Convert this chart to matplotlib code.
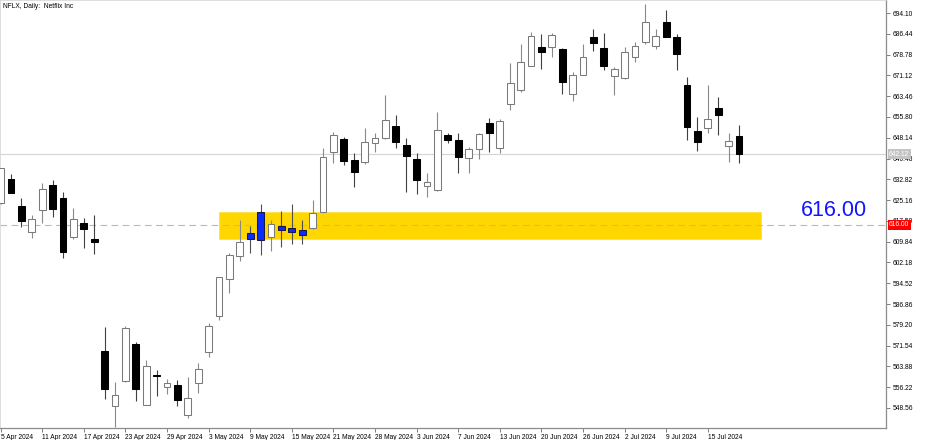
import matplotlib
matplotlib.use("Agg")
import matplotlib.pyplot as plt
from matplotlib import font_manager
from matplotlib.patches import Rectangle
from matplotlib.transforms import blended_transform_factory

plt.rcParams['font.family'] = ['Liberation Sans', 'DejaVu Sans']

# ---- data ----
opens = [624.0, 632.9, 623.1, 613.3, 621.4, 630.8, 625.9, 611.4, 616.6, 610.9,
         569.5, 549.2, 558.4, 572.0, 549.5, 560.8, 556.2, 557.1, 545.8, 557.6,
         569.2, 582.4, 596.0, 604.6, 610.7, 620.9, 611.6, 615.6, 614.9, 614.1,
         614.8, 620.7, 642.8, 647.6, 639.8, 639.1, 646.1, 647.9, 652.3, 645.5,
         640.2, 630.2, 628.8, 649.0, 647.2, 640.6, 643.9, 653.5, 644.2, 660.5,
         665.6, 674.6, 681.6, 681.5, 680.8, 664.4, 671.3, 685.3, 681.1, 670.9,
         670.0, 677.8, 683.3, 682.1, 690.7, 685.1, 667.5, 650.5, 651.6, 659.0,
         645.2, 648.7]
highs = [637.0, 634.8, 626.0, 619.7, 631.6, 632.6, 628.0, 622.4, 618.7, 619.6,
         578.3, 558.2, 578.9, 572.9, 566.2, 562.5, 559.2, 558.8, 560.1, 565.1,
         580.0, 596.8, 605.5, 617.8, 615.6, 623.7, 617.8, 621.3, 623.7, 617.8,
         625.2, 644.2, 650.1, 648.4, 642.4, 651.8, 649.8, 663.9, 656.4, 647.9,
         642.4, 635.0, 657.6, 650.0, 649.8, 644.8, 650.0, 655.3, 655.0, 675.6,
         682.8, 687.0, 686.5, 686.6, 681.3, 672.5, 682.8, 688.3, 686.8, 674.3,
         681.7, 683.4, 697.3, 688.2, 695.1, 686.3, 670.4, 655.7, 667.6, 663.0,
         650.0, 652.8]
lows = [623.9, 627.8, 615.4, 611.1, 616.6, 618.8, 603.7, 610.8, 607.6, 605.2,
        551.9, 541.5, 558.2, 551.1, 549.5, 553.0, 553.7, 549.2, 544.9, 554.2,
        567.3, 581.0, 590.8, 602.7, 605.6, 605.0, 606.5, 607.8, 609.0, 609.0,
        614.4, 620.7, 638.7, 638.2, 630.1, 638.6, 643.0, 647.7, 644.2, 628.2,
        627.3, 626.2, 628.5, 646.1, 635.2, 635.2, 640.2, 643.0, 642.5, 658.4,
        665.1, 674.4, 673.5, 678.0, 664.3, 661.8, 671.1, 680.2, 673.1, 663.8,
        669.8, 675.9, 682.6, 680.8, 685.1, 673.1, 647.3, 643.4, 650.0, 649.1,
        639.3, 638.7]
closes = [636.9, 627.9, 617.3, 618.1, 629.1, 621.9, 606.0, 618.1, 614.4, 609.6,
          555.7, 553.2, 577.9, 555.4, 563.9, 560.5, 557.6, 551.4, 552.1, 563.0,
          578.8, 596.7, 604.9, 609.6, 613.0, 610.5, 616.2, 614.1, 613.3, 612.2,
          620.5, 640.9, 649.1, 639.5, 635.5, 646.5, 647.9, 654.6, 646.7, 641.4,
          632.7, 631.7, 650.9, 647.3, 640.9, 643.9, 649.5, 649.8, 654.3, 668.3,
          676.2, 685.7, 679.6, 686.0, 668.8, 671.1, 677.8, 682.9, 674.7, 673.5,
          679.6, 682.1, 690.9, 685.6, 685.3, 678.9, 652.2, 646.7, 655.0, 656.4,
          646.8, 642.1]
highlighted = [24, 25, 27, 28, 29]

date_ticks = [0, 4, 8, 12, 16, 20, 24, 28, 32, 36, 40, 44, 48, 52, 56, 60, 64, 68]
date_labels = ['5 Apr 2024', '11 Apr 2024', '17 Apr 2024', '23 Apr 2024', '29 Apr 2024',
               '3 May 2024', '9 May 2024', '15 May 2024', '21 May 2024', '28 May 2024',
               '3 Jun 2024', '7 Jun 2024', '13 Jun 2024', '20 Jun 2024', '26 Jun 2024',
               '2 Jul 2024', '9 Jul 2024', '15 Jul 2024']
price_ticks = [694.10, 686.44, 678.78, 671.12, 663.46, 655.80, 648.14, 640.48, 632.82,
               625.16, 617.50, 609.84, 602.18, 594.52, 586.86, 579.20, 571.54, 563.88,
               556.22, 548.56]

level_price = 616.00
last_price = 642.12
zone_low, zone_high = 610.9, 620.8
zone_start, zone_end = 21.0, 73.1

title = "NFLX, Daily:  Netflix Inc"
# ---------------------------------------------------------------

installed = {f.name for f in font_manager.fontManager.ttflist}
if 'Liberation Sans Narrow' in installed:
    small_family, small_size = ['Liberation Sans Narrow', 'DejaVu Sans'], 5.5
else:
    small_family, small_size = ['Liberation Sans', 'DejaVu Sans'], 4.8

W, H = 936, 440
fig = plt.figure(figsize=(W / 100, H / 100), dpi=100)
ax_left, ax_right, ax_top, ax_bottom = 0, 886, 0, 428
ax = fig.add_axes([ax_left / W, (H - ax_bottom) / H, (ax_right - ax_left) / W, (ax_bottom - ax_top) / H])

ax.set_xlim(-0.058, 85.13)
ax.set_ylim(541.17, 698.9)

# zone
ax.add_patch(Rectangle((zone_start, zone_low), zone_end - zone_start, zone_high - zone_low,
                       facecolor='#FFD700', edgecolor='#FFE24D', linewidth=0.7, zorder=1))
# level lines
ax.axhline(level_price, color='#f5a0a0', linestyle=(0, (6, 4)), linewidth=0.8, zorder=2)
ax.axhline(last_price, color='#d4d4d4', linewidth=0.8, zorder=2)

# candles
bw = 0.66
n = len(opens)
for i in range(n):
    o, h, l, c = opens[i], highs[i], lows[i], closes[i]
    bull = c >= o
    if i in highlighted:
        face, edge, wick = '#0a2cff', '#1a1a40', '#505050'
    elif bull:
        face, edge, wick = 'white', '#7a7a7a', '#8a8a8a'
    else:
        face, edge, wick = 'black', 'black', '#404040'
    ax.vlines(i, l, h, color=wick, linewidth=0.8, zorder=3)
    bottom = min(o, c)
    height = max(abs(c - o), 0.35)
    ax.bar(i, height, bottom=bottom, width=bw, color=face, edgecolor=edge,
           linewidth=0.75, zorder=4)

# big level text
ax.text(80.16, 621.2, f"{level_price:.2f}", color='#1414ff', fontsize=15.5,
        ha='center', va='center', zorder=5)

# axes styling
for side in ['top', 'left']:
    ax.spines[side].set_color('#d8d8d8')
    ax.spines[side].set_linewidth(1.2)
for side in ['right', 'bottom']:
    ax.spines[side].set_color('#8c8c8c')
    ax.spines[side].set_linewidth(0.9)

ax.yaxis.tick_right()
ax.set_yticks(price_ticks)
ax.set_yticklabels([f"{p:.2f}" for p in price_ticks], family=small_family)
ax.tick_params(axis='y', direction='out', length=3, width=0.7, color='#808080',
               labelsize=small_size, pad=1.5, labelcolor='black')
ax.set_xticks(date_ticks)
ax.set_xticklabels(date_labels, ha='left', family=small_family)
ax.tick_params(axis='x', direction='out', length=3, width=0.7, color='#808080',
               labelsize=small_size, pad=1.5, labelcolor='black')
for lab in ax.get_xticklabels():
    lab.set_horizontalalignment('left')

# right-side price boxes
trans = blended_transform_factory(ax.transAxes, ax.transData)
ax.text(1.0 + 3 / 886, last_price, f"{last_price:.2f}", transform=trans, fontsize=small_size,
        family=small_family, color='white', ha='left', va='center', zorder=6, clip_on=False,
        bbox=dict(boxstyle='square,pad=0.2', facecolor='#c4c4c4', edgecolor='none'))
ax.text(1.0 + 3 / 886, level_price, f"{level_price:.2f}", transform=trans, fontsize=small_size,
        family=small_family, color='white', ha='left', va='center', zorder=6, clip_on=False,
        bbox=dict(boxstyle='square,pad=0.2', facecolor='#ff0000', edgecolor='none'))

fig.text(3 / W, 1 - 6 / H, title, fontsize=small_size, family=small_family,
         ha='left', va='center', color='black')

fig.savefig('out.png', dpi=100, facecolor='white')
